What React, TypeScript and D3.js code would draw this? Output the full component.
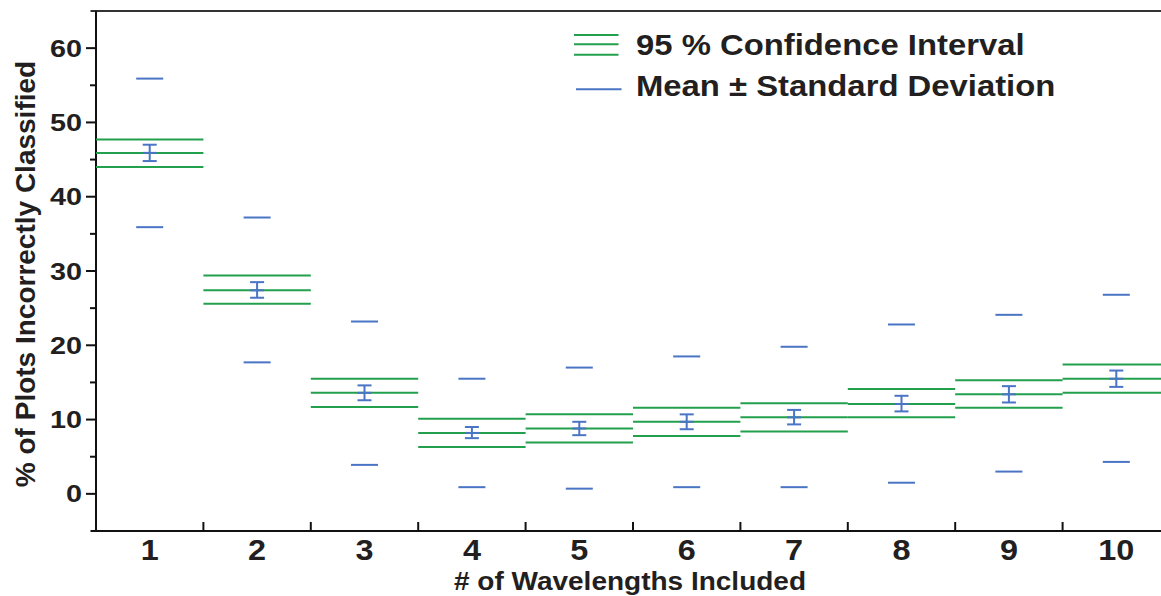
import React from "react";
import * as d3 from "d3";

const categories = ["1", "2", "3", "4", "5", "6", "7", "8", "9", "10"];
const means = [45.9, 27.4, 13.6, 8.2, 8.8, 9.7, 10.3, 12.1, 13.4, 15.5];
const ciLow = [44.0, 25.6, 11.7, 6.3, 6.9, 7.8, 8.4, 10.3, 11.6, 13.6];
const ciHigh = [47.7, 29.4, 15.5, 10.1, 10.7, 11.6, 12.2, 14.1, 15.3, 17.4];
const sdLow = [35.9, 17.7, 3.9, 0.9, 0.7, 0.9, 0.9, 1.5, 3.0, 4.3];
const sdHigh = [55.9, 37.2, 23.2, 15.5, 17.0, 18.5, 19.8, 22.8, 24.1, 26.8];
const errLow = [44.8, 26.4, 12.6, 7.5, 7.9, 8.7, 9.35, 11.1, 12.3, 14.4];
const errHigh = [47.0, 28.5, 14.6, 9.0, 9.7, 10.7, 11.3, 13.2, 14.5, 16.6];
const yMajorTicks = [0, 10, 20, 30, 40, 50, 60];
const yMinorTicks = [5, 15, 25, 35, 45, 55];
const legendLabels = ["95 % Confidence Interval", "Mean \u00b1 Standard Deviation"];
const xTitle = "# of Wavelengths Included";
const yTitle = "% of Plots Incorrectly Classified";

const GREEN = "#22a04c";
const BLUE = "#4a74c4";
const TEXT = "#231f20";
const FONT = "'Liberation Sans', Arial, Helvetica, sans-serif";

export default function App() {
  const W = 1161;
  const H = 596;
  const left = 96;
  const right = 1170;
  const top = 11;
  const bottom = 531;

  const x = d3.scaleBand<string>().domain(categories).range([left, right]).padding(0);
  const y = d3.scaleLinear().domain([-5, 65]).range([bottom, top]);
  const bw = x.bandwidth();
  const boundaries = categories.slice(1).map((c) => x(c) as number);

  return (
    <svg
      width={W}
      height={H}
      style={{ position: "fixed", left: 0, top: 0, background: "#fff" }}
      fontFamily={FONT}
    >
      <rect x={0} y={0} width={W} height={H} fill="#fff" />
      {/* frame */}
      <line x1={90.5} x2={W} y1={top} y2={top} stroke="#333" strokeWidth={2} />
      <line x1={left} x2={left} y1={top} y2={bottom} stroke="#111" strokeWidth={2} />
      <line x1={90.5} x2={W} y1={bottom} y2={bottom} stroke="#111" strokeWidth={2} />

      {/* y ticks */}
      {yMajorTicks.map((t) => (
        <g key={"ym" + t}>
          <line x1={left - 10} x2={left} y1={y(t)} y2={y(t)} stroke="#111" strokeWidth={2} />
          <text
            transform={`translate(82, ${y(t) + 8.5}) scale(1.2, 1)`}
            textAnchor="end"
            fontSize={24}
            fontWeight="bold"
            fill={TEXT}
          >
            {t}
          </text>
        </g>
      ))}
      {yMinorTicks.map((t) => (
        <line key={"yn" + t} x1={left - 6} x2={left} y1={y(t)} y2={y(t)} stroke="#111" strokeWidth={2} />
      ))}

      {/* x ticks */}
      {boundaries.map((b, i) => (
        <line key={"xb" + i} x1={b} x2={b} y1={bottom - 9} y2={bottom} stroke="#111" strokeWidth={2} />
      ))}
      {categories.map((c) => (
        <text
          key={"xl" + c}
          transform={`translate(${(x(c) as number) + bw / 2}, 559.5) scale(1.08, 1)`}
          textAnchor="middle"
          fontSize={30}
          fontWeight="bold"
          fill={TEXT}
        >
          {c}
        </text>
      ))}

      {/* axis titles */}
      <text
        transform={`translate(${(left + right) / 2 - 3}, 589.5) scale(1.12, 1)`}
        textAnchor="middle"
        fontSize={25}
        fontWeight="bold"
        fill={TEXT}
      >
        {xTitle}
      </text>
      <text
        transform={`translate(35, ${(top + bottom) / 2 + 3}) rotate(-90)`}
        textAnchor="middle"
        fontSize={28}
        fontWeight="bold"
        fill={TEXT}
      >
        {yTitle}
      </text>

      {/* data */}
      {categories.map((c, i) => {
        const x0 = x(c) as number;
        const cx = x0 + bw / 2;
        return (
          <g key={"d" + c}>
            {[ciHigh[i], means[i], ciLow[i]].map((v, k) => (
              <line key={k} x1={x0} x2={x0 + bw} y1={y(v)} y2={y(v)} stroke={GREEN} strokeWidth={2} />
            ))}
            {[sdHigh[i], sdLow[i]].map((v, k) => (
              <line key={"s" + k} x1={cx - 13.5} x2={cx + 13.5} y1={y(v)} y2={y(v)} stroke={BLUE} strokeWidth={2} />
            ))}
            <line x1={cx} x2={cx} y1={y(errHigh[i])} y2={y(errLow[i])} stroke={BLUE} strokeWidth={2} />
            {[errHigh[i], means[i], errLow[i]].map((v, k) => (
              <line key={"e" + k} x1={cx - 7} x2={cx + 7} y1={y(v)} y2={y(v)} stroke={BLUE} strokeWidth={2} />
            ))}
          </g>
        );
      })}

      {/* legend */}
      {[35, 44.3, 54.7].map((ly, k) => (
        <line key={"lg" + k} x1={574} x2={618.5} y1={ly} y2={ly} stroke={GREEN} strokeWidth={2} />
      ))}
      <line x1={576} x2={621.5} y1={89.3} y2={89.3} stroke={BLUE} strokeWidth={2} />
      <text transform="translate(636, 54.5) scale(1.095, 1)" fontSize={30} fontWeight="bold" fill={TEXT}>
        {legendLabels[0]}
      </text>
      <text transform="translate(636, 95.5) scale(1.095, 1)" fontSize={30} fontWeight="bold" fill={TEXT}>
        {legendLabels[1]}
      </text>
    </svg>
  );
}
